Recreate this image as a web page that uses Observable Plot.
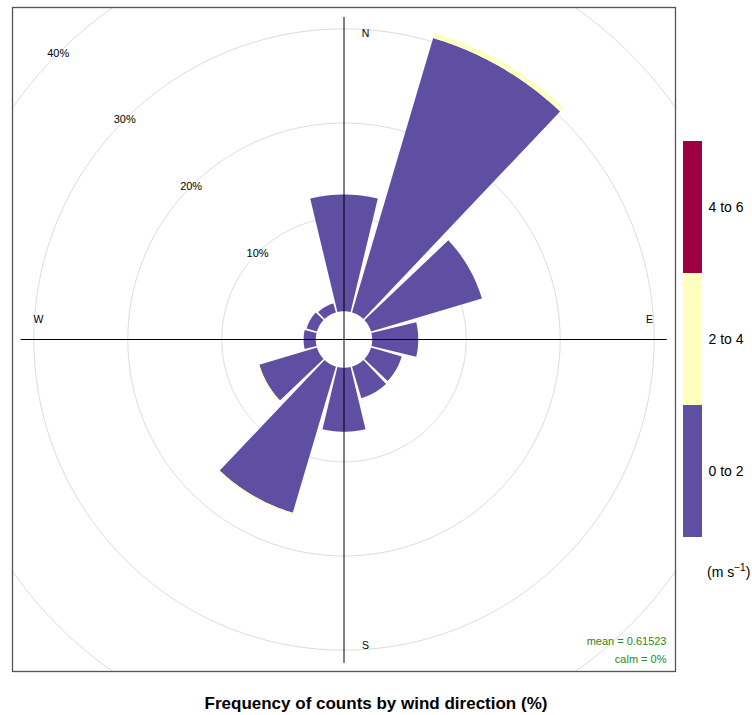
<!DOCTYPE html>
<html>
<head>
<meta charset="utf-8">
<script src="https://cdn.jsdelivr.net/npm/d3@7"></script>
<script src="https://cdn.jsdelivr.net/npm/@observablehq/plot@0.6"></script>
<style>
  html, body { margin: 0; padding: 0; background: #fff; }
  #wrap { position: relative; width: 752px; height: 715px; font-family: "Liberation Sans", Arial, sans-serif; }
  #main { position: absolute; left: 0; top: 0; }
  #legend { position: absolute; left: 683px; top: 140px; }
  #unit { position: absolute; left: 707px; top: 562px; font-size: 14px; color: #000; line-height: 20px; }
  #unit sup { font-size: 10px; vertical-align: 6px; line-height: 0; }
  #title { position: absolute; left: 0; top: 694px; width: 752px; text-align: center; font-weight: bold; font-size: 17px; line-height: 20px; color: #000; }
</style>
</head>
<body>
<div id="wrap">
  <div id="main"></div>
  <div id="legend"></div>
  <div id="unit">(m s<sup>−1</sup>)</div>
  <div id="title">Frequency of counts by wind direction (%)</div>
</div>
<script>
// ---- data (percent of counts per direction and speed band) ----
const directions = [0, 30, 60, 90, 120, 150, 180, 210, 240, 270, 300, 330];
const speed0to2 = [12.4, 30.4, 12.3, 4.9, 3.4, 3.5, 6.8, 16.2, 6.4, 1.3, 1.15, 1.0];
const speed2to4 = [0, 0.55, 0, 0, 0, 0, 0, 0.15, 0.15, 0, 0, 0];
const speed4to6 = [0, 0, 0, 0, 0, 0, 0, 0, 0, 0, 0, 0];
const bandLabels = ["0 to 2", "2 to 4", "4 to 6"];
const bandColors = ["#5E4FA2", "#FFFFBF", "#9E0142"];
const gridPercents = [10, 20, 30, 40];
const compassLabels = ["N", "E", "S", "W"];
const compassAngles = [0, 90, 180, 270];
const statsLines = ["mean = 0.61523", "calm = 0%"];

// ---- geometry helpers ----
const offset = 3;          // hole size in percent units
const halfWidth = 13.5;    // half wedge width in degrees
const D = 35.27;           // half extent of the panel in percent units
const rad = d => d * Math.PI / 180;
const bands = [speed0to2, speed2to4, speed4to6];

const wedges = [];
directions.forEach((dir, i) => {
  let cum = 0;
  bands.forEach((b, j) => {
    const v = b[i];
    if (v > 0) {
      const r0 = offset + cum, r1 = offset + cum + v;
      const key = dir + "-" + j;
      for (let a = dir - halfWidth; a <= dir + halfWidth + 1e-9; a += 0.5)
        wedges.push({x: r1 * Math.sin(rad(a)), y: r1 * Math.cos(rad(a)), key, band: bandLabels[j]});
      for (let a = dir + halfWidth; a >= dir - halfWidth - 1e-9; a -= 0.5)
        wedges.push({x: r0 * Math.sin(rad(a)), y: r0 * Math.cos(rad(a)), key, band: bandLabels[j]});
    }
    cum += v;
  });
});

const circles = [];
gridPercents.forEach(p => {
  const r = offset + p;
  for (let a = 0; a < 360; a += 1)
    circles.push({x: r * Math.sin(rad(a)), y: r * Math.cos(rad(a)), p});
});

const pctLabels = gridPercents.map(p => ({
  x: (offset + p) * Math.sin(rad(315)),
  y: (offset + p) * Math.cos(rad(315)),
  text: p + "%"
}));

const compass = compassLabels.map((t, i) => {
  const a = compassAngles[i];
  const r = 32.5;
  const x = r * Math.sin(rad(a)), y = r * Math.cos(rad(a));
  // shifted like openair: N/S to the right, E/W upward
  return (a === 0 || a === 180) ? {x: x + 2.3, y, t} : {x, y: y + 2.1, t};
});

const chart = Plot.plot({
  width: 752,
  height: 690,
  marginLeft: 12,
  marginRight: 77,
  marginTop: 7,
  marginBottom: 19,
  style: {fontFamily: "Liberation Sans, Arial, sans-serif", background: "#fff"},
  x: {type: "linear", domain: [-D, D], axis: null},
  y: {type: "linear", domain: [-D, D], axis: null},
  color: {domain: bandLabels, range: bandColors},
  marks: [
    Plot.line(circles, {x: "x", y: "y", z: "p", stroke: "#dcdcdc", strokeWidth: 1, curve: "linear-closed", clip: true}),
    Plot.line(wedges, {x: "x", y: "y", z: "key", fill: "band", stroke: "none", curve: "linear-closed"}),
    Plot.ruleX([0], {y1: -34.4, y2: 34.2, stroke: "#000", strokeWidth: 1}),
    Plot.ruleY([0], {x1: -34.35, x2: 34.4, stroke: "#000", strokeWidth: 1}),
    Plot.text(pctLabels, {x: "x", y: "y", text: "text", fontSize: 11, fill: "#000", textAnchor: "middle", lineAnchor: "middle"}),
    Plot.text(compass, {x: "x", y: "y", text: "t", fontSize: 10.5, fill: "#000", textAnchor: "middle", lineAnchor: "middle"}),
    Plot.text([statsLines[0]], {frameAnchor: "bottom-right", dx: -9, dy: -30, fontSize: 11, fill: "#228B22", textAnchor: "end", lineAnchor: "middle"}),
    Plot.text([statsLines[1]], {frameAnchor: "bottom-right", dx: -9, dy: -12.5, fontSize: 11, fill: "#228B22", textAnchor: "end", lineAnchor: "middle"}),
    Plot.frame({stroke: "#555", strokeWidth: 1.3})
  ]
});
document.getElementById("main").appendChild(chart);

const legend = Plot.plot({
  width: 69,
  height: 398,
  marginLeft: 0,
  marginRight: 50,
  marginTop: 0,
  marginBottom: 0,
  style: {fontFamily: "Liberation Sans, Arial, sans-serif", fontSize: "14px", background: "transparent"},
  x: {axis: null},
  y: {domain: bandLabels.slice().reverse(), padding: 0, axis: "right", tickSize: 0, tickPadding: 6, label: null},
  color: {domain: bandLabels, range: bandColors},
  marks: [
    Plot.cell(bandLabels, {y: d => d, fill: d => d, inset: 0})
  ]
});
document.getElementById("legend").appendChild(legend);
</script>
</body>
</html>
